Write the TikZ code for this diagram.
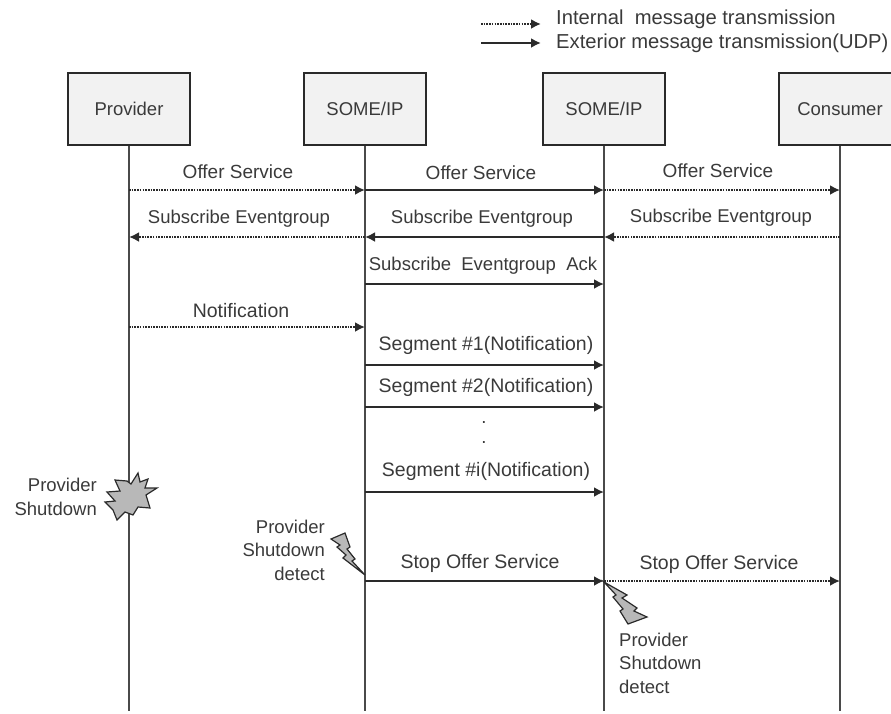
\documentclass[tikz,border=0pt]{standalone}
\usepackage{fontspec}
\setmainfont{Liberation Sans}
\usetikzlibrary{arrows.meta}
\definecolor{ink}{HTML}{2A2A2A}
\definecolor{txt}{HTML}{3A3A3A}
\definecolor{boxfill}{HTML}{F2F2F2}
\definecolor{burst}{HTML}{B8B8B8}
\tikzset{
  actor/.style={draw=ink,line width=2pt,fill=boxfill,minimum width=122pt,minimum height=72pt,inner sep=0pt,font=\fontsize{18.5}{22}\selectfont,text=txt,anchor=north west},
  life/.style={draw=ink!85,line width=2.2pt},
  ext/.style={draw=ink,line width=2pt,-{Latex[length=10pt,width=10pt]}},
  int/.style={draw=ink,line width=2pt,dash pattern=on 1.6pt off 1.1pt,-{Latex[length=10pt,width=10pt,sep=0pt]}},
  lbl/.style={text=txt,font=\fontsize{18.5}{22}\selectfont,inner sep=0pt},
  mid/.style={lbl,font=\fontsize{19}{22}\selectfont},
  seg/.style={lbl,font=\fontsize{19.5}{22}\selectfont},
  leg/.style={lbl,font=\fontsize{20.2}{24}\selectfont,anchor=west},
  note/.style={text=txt,font=\fontsize{18.5}{23.5}\selectfont,inner sep=0pt,align=right},
  noteL/.style={note,align=left},
  zap/.style={draw=ink,line width=1.2pt,fill=burst,line join=miter}
}
\begin{document}
\begin{tikzpicture}[x=1pt,y=-1pt]
\useasboundingbox (0,0) rectangle (891,713);
\clip (0,0) rectangle (891,713);
% rows
\coordinate (rOffer) at (0,190);
\coordinate (rSub) at (0,237);
\coordinate (rAck) at (0,284);
\coordinate (rNote) at (0,327);
\coordinate (rSeg1) at (0,365);
\coordinate (rSeg2) at (0,407);
\coordinate (rSegI) at (0,492);
\coordinate (rStop) at (0,581);
\coordinate (rEnd) at (0,711);
% actors
\node[actor] (prov) at (67,72) {Provider};
\node[actor] (sa) at (303,72) {SOME/IP};
\node[actor] (sb) at (542,72) {SOME/IP};
\node[actor] (cons) at (778,72) {Consumer};
% lifelines
\coordinate (pEnd) at (prov.south |- rEnd);
\coordinate (saEnd) at (sa.south |- rEnd);
\coordinate (sbEnd) at (sb.south |- rEnd);
\coordinate (cEnd) at (cons.south |- rEnd);
\draw[life] (prov.south) -- (pEnd);
\draw[life] (sa.south) -- (saEnd);
\draw[life] (sb.south) -- (sbEnd);
\draw[life] (cons.south) -- (cEnd);
% legend
\coordinate (l1a) at (481,24);
\coordinate (l1b) at (541,24);
\coordinate (l2a) at (481,43);
\coordinate (l2b) at (541,43);
\draw[int] (l1a) -- (l1b);
\draw[ext] (l2a) -- (l2b);
\node[leg] (t1) at (556,19) {Internal\ \ message transmission};
\node[leg] (t2) at (556,43) {Exterior message transmission(UDP)};
% messages
\draw[int] (prov.south |- rOffer) -- (sa.south |- rOffer);
\draw[ext] (sa.south |- rOffer) -- (sb.south |- rOffer);
\draw[int] (sb.south |- rOffer) -- (cons.south |- rOffer);
\draw[int] (sa.south |- rSub) -- (prov.south |- rSub);
\draw[ext] (sb.south |- rSub) -- (sa.south |- rSub);
\draw[int] (cons.south |- rSub) -- (sb.south |- rSub);
\draw[ext] (sa.south |- rAck) -- (sb.south |- rAck);
\draw[int] (prov.south |- rNote) -- (sa.south |- rNote);
\draw[ext] (sa.south |- rSeg1) -- (sb.south |- rSeg1);
\draw[ext] (sa.south |- rSeg2) -- (sb.south |- rSeg2);
\draw[ext] (sa.south |- rSegI) -- (sb.south |- rSegI);
\draw[ext] (sa.south |- rStop) -- (sb.south |- rStop);
\draw[int] (sb.south |- rStop) -- (cons.south |- rStop);
% labels
\node[mid] (m1) at (238,172) {Offer Service};
\node[mid] (m2) at (481,173) {Offer Service};
\node[mid] (m3) at (718,171) {Offer Service};
\node[lbl] (m4) at (239,219) {Subscribe Eventgroup};
\node[lbl] (m5) at (482,219) {Subscribe Eventgroup};
\node[lbl] (m6) at (721,218) {Subscribe Eventgroup};
\node[lbl] (m7) at (483,266) {Subscribe\ \ Eventgroup\ \ Ack};
\node[seg] (m8) at (241,311) {Notification};
\node[seg] (m9) at (486,345) {Segment \#1(Notification)};
\node[seg] (m10) at (486,387) {Segment \#2(Notification)};
\node[lbl] (d1) at (484,423) {.};
\node[lbl] (d2) at (484,443) {.};
\node[seg] (m11) at (486,471) {Segment \#i(Notification)};
\node[seg] (m12) at (480,563) {Stop Offer Service};
\node[seg] (m13) at (719,564) {Stop Offer Service};
% notes
\node[note,anchor=east] (n1) at (97,497) {Provider\\Shutdown};
\node[note,anchor=east] (n2) at (325,550) {Provider\\Shutdown\\detect};
\node[noteL,anchor=west] (n3) at (619,663) {Provider\\Shutdown\\detect};
% burst
\draw[zap] (138,473)--(140,482)--(148,479)--(145,488)--(157,488)--(146,495)--(150,508)--(138,507)--(133,515)--(125,512)--(117,520)--(113,510)--(105,502)--(115,501)--(107,492)--(120,491)--(115,480)--(127,481)--(131,484)--cycle;
% bolts
\draw[zap] (331,539)--(345,533)--(350,547)--(347,549)--(355,559)--(352,561)--(365,575)--(343,558)--(346,555)--(337,547)--(340,545)--cycle;
\draw[zap] (604,582)--(627,595)--(622,598)--(637,608)--(634,611)--(647,617)--(628,624)--(620,611)--(623,609)--(613,597)--(616,595)--cycle;
\end{tikzpicture}
\end{document}
